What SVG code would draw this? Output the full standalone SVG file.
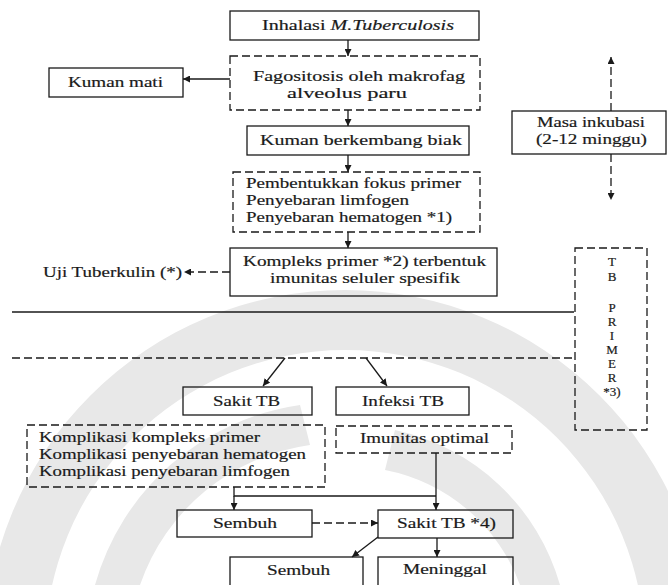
<svg xmlns="http://www.w3.org/2000/svg" width="668" height="585" viewBox="0 0 668 585">
<style>
.box{fill:none;stroke:#1a1a1a;stroke-width:1.3}
.dbox{fill:none;stroke:#1a1a1a;stroke-width:1.3;stroke-dasharray:8 4}
.ln{fill:none;stroke:#1a1a1a;stroke-width:1.3}
.dln{fill:none;stroke:#1a1a1a;stroke-width:1.3;stroke-dasharray:8 4}
text{font-family:'Liberation Serif','Times New Roman',serif;font-size:15.5px;fill:#1a1a1a;stroke:#1a1a1a;stroke-width:0.2}
.c{text-anchor:middle}
.v{font-size:13px}
.wm{fill:#e8e8e8}
</style>
<defs>
<marker id="ah" viewBox="0 0 10 10" refX="10" refY="5" markerWidth="7" markerHeight="7" markerUnits="userSpaceOnUse" orient="auto">
<path d="M0,0 L10,5 L0,10 z" fill="#1a1a1a"/>
</marker>
</defs>
<rect width="668" height="585" fill="#fff"/>
<g id="watermark">
<path class="wm" fill-rule="evenodd" d="M-15,650 A360,360 0 0 1 705,650 A360,360 0 0 1 -15,650 Z M45,650 A300,300 0 0 0 645,650 A300,300 0 0 0 45,650 Z"/>
<path class="wm" d="M95,585 A250,250 0 0 1 300,405 L310,445 A210,210 0 0 0 140,585 Z"/>
<path class="wm" d="M395,430 A220,220 0 0 1 560,585 L520,585 A180,180 0 0 0 385,470 Z"/>
</g>

<g id="connectors">
<line class="ln" x1="348" y1="40" x2="348" y2="56" marker-end="url(#ah)"/>
<line class="ln" x1="230" y1="79" x2="183" y2="79" marker-end="url(#ah)"/>
<line class="ln" x1="348" y1="110" x2="348" y2="126" marker-end="url(#ah)"/>
<line class="ln" x1="348" y1="155" x2="348" y2="172" marker-end="url(#ah)"/>
<line class="ln" x1="348" y1="232" x2="348" y2="248" marker-end="url(#ah)"/>
<line class="dln" x1="230" y1="272" x2="184" y2="272" marker-end="url(#ah)"/>
<line class="dln" x1="611" y1="111" x2="611" y2="57" marker-end="url(#ah)"/>
<line class="dln" x1="611" y1="154" x2="611" y2="200" marker-end="url(#ah)"/>
<line class="ln" x1="12" y1="312" x2="574" y2="312"/>
<line class="dln" x1="12" y1="358" x2="574" y2="358"/>
<line class="ln" x1="285" y1="358" x2="263" y2="386" marker-end="url(#ah)"/>
<line class="ln" x1="366" y1="358" x2="387" y2="386" marker-end="url(#ah)"/>
<polyline class="ln" points="234,487 234,496 436,496"/>
<line class="ln" x1="234" y1="496" x2="234" y2="510" marker-end="url(#ah)"/>
<line class="ln" x1="436" y1="453" x2="436" y2="510" marker-end="url(#ah)"/>
<line class="dln" x1="312" y1="523" x2="378" y2="523" marker-end="url(#ah)"/>
<line class="ln" x1="378" y1="537" x2="352" y2="557" marker-end="url(#ah)"/>
<line class="ln" x1="437" y1="538" x2="437" y2="557" marker-end="url(#ah)"/>
</g>

<g id="inhalasi">
<rect class="box" x="230" y="11" width="249" height="29"/>
<text x="262" y="30" textLength="192" lengthAdjust="spacingAndGlyphs">Inhalasi <tspan font-style="italic">M.Tuberculosis</tspan></text>
</g>
<g id="kuman-mati">
<rect class="box" x="49" y="68" width="134" height="29"/>
<text x="68" y="87" textLength="95" lengthAdjust="spacingAndGlyphs">Kuman mati</text>
</g>
<g id="fagositosis">
<rect class="dbox" x="230" y="56" width="250" height="54"/>
<text x="253" y="81" textLength="212" lengthAdjust="spacingAndGlyphs">Fagositosis oleh makrofag</text>
<text x="287" y="98" textLength="120" lengthAdjust="spacingAndGlyphs">alveolus paru</text>
</g>
<g id="kuman-berkembang">
<rect class="box" x="247" y="126" width="222" height="29"/>
<text x="260" y="145" textLength="202" lengthAdjust="spacingAndGlyphs">Kuman berkembang biak</text>
</g>
<g id="pembentukkan">
<rect class="dbox" x="233" y="172" width="247" height="60"/>
<text x="246" y="188" textLength="215" lengthAdjust="spacingAndGlyphs">Pembentukkan fokus primer</text>
<text x="246" y="205" textLength="163" lengthAdjust="spacingAndGlyphs">Penyebaran limfogen</text>
<text x="246" y="222" textLength="206" lengthAdjust="spacingAndGlyphs">Penyebaran hematogen *1)</text>
</g>
<g id="kompleks">
<rect class="box" x="230" y="248" width="267" height="48"/>
<text x="243" y="266" textLength="243" lengthAdjust="spacingAndGlyphs">Kompleks primer *2) terbentuk</text>
<text x="270" y="283" textLength="190" lengthAdjust="spacingAndGlyphs">imunitas seluler spesifik</text>
</g>
<g id="uji">
<text x="43" y="277" textLength="139" lengthAdjust="spacingAndGlyphs">Uji Tuberkulin (*)</text>
</g>
<g id="masa-inkubasi">
<rect class="box" x="512" y="111" width="154" height="43"/>
<text x="537" y="127" textLength="108" lengthAdjust="spacingAndGlyphs">Masa inkubasi</text>
<text x="536" y="144" textLength="111" lengthAdjust="spacingAndGlyphs">(2-12 minggu)</text>
</g>
<g id="tb-primer">
<rect class="dbox" x="575" y="248" width="72" height="182"/>
<text class="c v" x="612" y="266">T</text>
<text class="c v" x="612" y="281">B</text>
<text class="c v" x="612" y="312">P</text>
<text class="c v" x="612" y="326">R</text>
<text class="c v" x="612" y="340">I</text>
<text class="c v" x="612" y="354">M</text>
<text class="c v" x="612" y="368">E</text>
<text class="c v" x="612" y="382">R</text>
<text class="c v" x="612" y="396">*3)</text>
</g>
<g id="sakit-tb">
<rect class="box" x="183" y="387" width="129" height="28"/>
<text x="213" y="406" textLength="67" lengthAdjust="spacingAndGlyphs">Sakit TB</text>
</g>
<g id="infeksi-tb">
<rect class="box" x="336" y="387" width="133" height="28"/>
<text x="362" y="406" textLength="82" lengthAdjust="spacingAndGlyphs">Infeksi TB</text>
</g>
<g id="komplikasi">
<rect class="dbox" x="27" y="425" width="298" height="62"/>
<text x="39" y="442" textLength="221" lengthAdjust="spacingAndGlyphs">Komplikasi kompleks primer</text>
<text x="39" y="459" textLength="267" lengthAdjust="spacingAndGlyphs">Komplikasi penyebaran hematogen</text>
<text x="39" y="476" textLength="251" lengthAdjust="spacingAndGlyphs">Komplikasi penyebaran limfogen</text>
</g>
<g id="imunitas">
<rect class="dbox" x="336" y="426" width="176" height="27"/>
<text x="360" y="443" textLength="129" lengthAdjust="spacingAndGlyphs">Imunitas optimal</text>
</g>
<g id="sembuh1">
<rect class="box" x="177" y="510" width="135" height="27"/>
<text x="213" y="528" textLength="64" lengthAdjust="spacingAndGlyphs">Sembuh</text>
</g>
<g id="sakit-tb4">
<rect class="box" x="378" y="510" width="135" height="28"/>
<text x="397" y="528" textLength="99" lengthAdjust="spacingAndGlyphs">Sakit TB *4)</text>
</g>
<g id="sembuh2">
<rect class="box" x="230" y="557" width="133" height="40"/>
<text x="267" y="575" textLength="63" lengthAdjust="spacingAndGlyphs">Sembuh</text>
</g>
<g id="meninggal">
<rect class="box" x="378" y="557" width="135" height="40"/>
<text x="403" y="574" textLength="84" lengthAdjust="spacingAndGlyphs">Meninggal</text>
</g>
</svg>
